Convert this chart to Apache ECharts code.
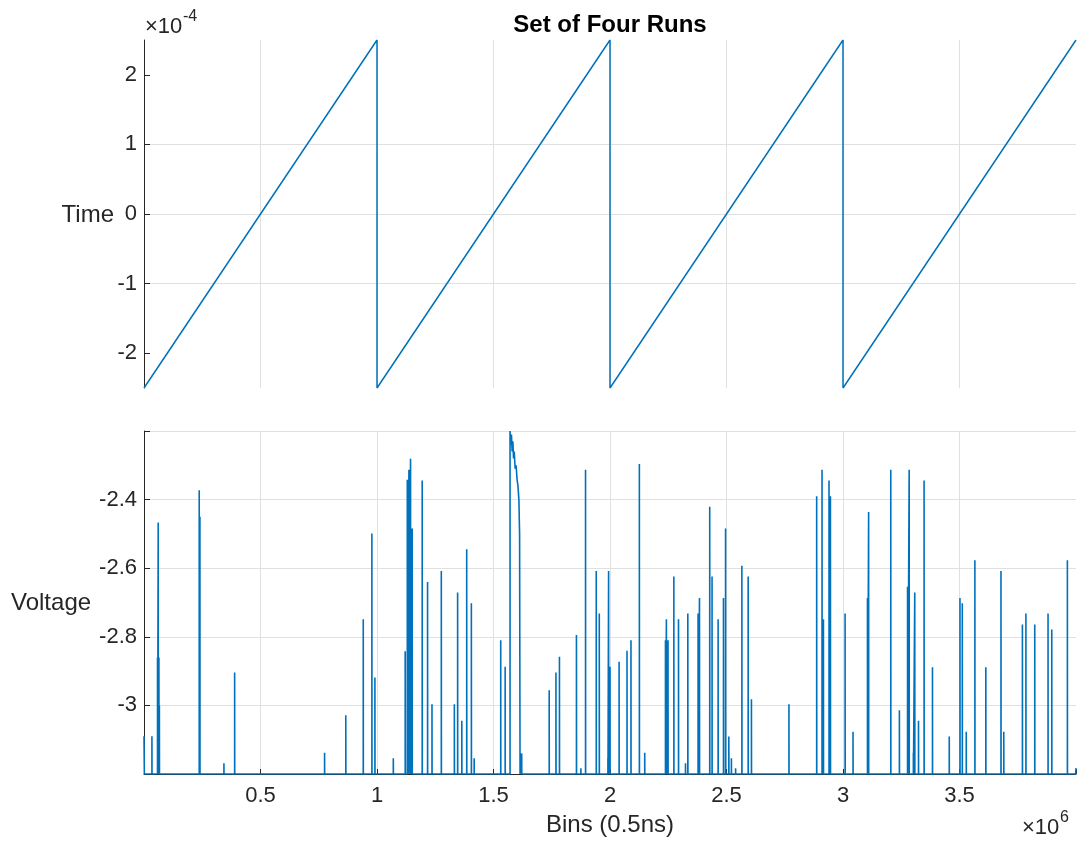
<!DOCTYPE html>
<html>
<head>
<meta charset="utf-8">
<script src="https://cdn.jsdelivr.net/npm/echarts@6/dist/echarts.min.js"></script>
<style>
  html, body { margin: 0; padding: 0; background: #fff; }
  #chart { width: 1080px; height: 846px; }
</style>
</head>
<body>
<div id="chart"></div>
<script>
// sawtooth of the time base, four runs of 1e6 bins each
const timeBins = [0, 1e6, 1e6, 2e6, 2e6, 3e6, 3e6, 4e6];
const timeValues = [-2.5e-4, 2.5e-4, -2.5e-4, 2.5e-4, -2.5e-4, 2.5e-4, -2.5e-4, 2.5e-4];
const timeTicks = [-2e-4, -1e-4, 0, 1e-4, 2e-4];

// voltage pulses (bins in millions, peak in volts)
const baseVolt = -3.2;
const startVolt = -3.09;
const spikeBinsM = [
  0.034, 0.058, 0.061, 0.064, 0.066, 0.237, 0.240, 0.343, 0.389, 0.775,
  0.866, 0.941, 0.978, 0.991, 1.070, 1.121, 1.130, 1.137, 1.144, 1.151,
  1.194, 1.217, 1.236, 1.276, 1.332, 1.346, 1.364, 1.385, 1.405, 1.417,
  1.531, 1.550, 1.621, 1.739, 1.768, 1.783, 1.856, 1.875, 1.895, 1.941,
  1.954, 1.991, 1.994, 2.000, 2.039, 2.073, 2.090, 2.126, 2.149, 2.238,
  2.242, 2.249, 2.274, 2.294, 2.324, 2.334, 2.378, 2.384, 2.428, 2.438,
  2.464, 2.487, 2.496, 2.510, 2.521, 2.539, 2.566, 2.593, 2.607, 2.768,
  2.887, 2.910, 2.916, 2.940, 2.946, 3.009, 3.043, 3.105, 3.110, 3.205,
  3.242, 3.277, 3.284, 3.302, 3.308, 3.324, 3.348, 3.384, 3.456, 3.502,
  3.512, 3.529, 3.566, 3.613, 3.678, 3.690, 3.770, 3.785, 3.823, 3.880,
  3.896, 3.963
];
const spikePeaks = [
  -3.09, -2.86, -2.467, -2.86, -3.0, -2.373, -2.45, -3.169, -2.904, -3.138,
  -3.029, -2.749, -2.499, -2.919, -3.154, -2.842, -2.342, -2.313, -2.281, -2.484,
  -2.344, -2.640, -2.997, -2.608, -2.997, -2.671, -3.045, -2.545, -2.702, -3.154,
  -2.810, -2.887, -3.14, -2.956, -2.904, -2.858, -2.795, -3.183, -2.313, -2.608,
  -2.732, -3.154, -2.608, -2.887, -2.873, -2.841, -2.810, -2.296, -3.138, -2.810,
  -2.749, -2.810, -2.624, -2.749, -3.169, -2.732, -2.732, -2.687, -2.421, -2.624,
  -2.749, -2.687, -2.484, -3.091, -3.154, -3.183, -2.593, -2.624, -2.982, -2.997,
  -2.390, -2.313, -2.749, -2.344, -2.390, -2.732, -3.077, -2.687, -2.436, -2.313,
  -3.014, -2.654, -2.313, -3.138, -2.671, -3.045, -2.344, -2.889, -3.091, -2.687,
  -2.702, -3.077, -2.577, -2.889, -2.608, -3.077, -2.764, -2.732, -2.764, -2.732,
  -2.779, -2.577
];
// long saturated pulse near 1.57e6
const arcBinsM = [1.571, 1.574, 1.577, 1.580, 1.583, 1.586, 1.589, 1.593, 1.597, 1.601, 1.605, 1.609, 1.612, 1.614];
const arcVolts = [-2.20, -2.24, -2.21, -2.26, -2.23, -2.28, -2.26, -2.31, -2.30, -2.34, -2.36, -2.40, -2.50, -3.20];
const endVolt = -3.183;

const xTickLabels = ["0.5", "1", "1.5", "2", "2.5", "3", "3.5"];

const MEGA = 1e6;
const blue = "#0072BD";
const ink = "#262626";
const gridGray = "#e0e0e0";
const font = "'Liberation Sans', Arial, Helvetica, sans-serif";

function buildVoltage() {
  const segs = spikeBinsM.map((b, i) => ({
    at: b,
    pts: [[b * MEGA, baseVolt], [b * MEGA, spikePeaks[i]], [b * MEGA + 400, baseVolt]],
  }));
  const arc = arcBinsM.map((b, i) => [b * MEGA, arcVolts[i]]);
  segs.push({ at: arcBinsM[0], pts: [[arcBinsM[0] * MEGA, baseVolt]].concat(arc) });
  segs.sort((a, b) => a.at - b.at);
  let pts = [[0, startVolt], [1500, baseVolt]];
  for (const s of segs) pts = pts.concat(s.pts);
  pts.push([4 * MEGA - 1500, baseVolt], [4 * MEGA, endVolt]);
  return pts;
}

const chart = echarts.init(document.getElementById("chart"));

const xBase = {
  type: "value",
  min: 0,
  max: 4 * MEGA,
  interval: 0.5 * MEGA,
  splitLine: { show: true, showMinLine: false, showMaxLine: false, lineStyle: { color: gridGray, width: 1 } },
};

chart.setOption({
  animation: false,
  textStyle: { fontFamily: font },
  grid: [
    { left: 144, right: 4, top: 40, height: 348 },
    { left: 144, right: 4, top: 431, height: 343 },
  ],
  xAxis: [
    Object.assign({}, xBase, {
      gridIndex: 0,
      axisLine: { show: false },
      axisTick: { show: false },
      axisLabel: { show: false },
    }),
    Object.assign({}, xBase, {
      gridIndex: 1,
      axisLine: { show: true, onZero: false, lineStyle: { color: ink, width: 1 } },
      axisTick: { show: true, inside: true, length: 5, lineStyle: { color: ink } },
      axisLabel: {
        color: ink, fontSize: 22, fontFamily: font, margin: 11,
        formatter: (v) => {
          const k = Math.round(v / (0.5 * MEGA));
          return k >= 1 && k <= xTickLabels.length ? xTickLabels[k - 1] : "";
        },
      },
      name: "Bins (0.5ns)",
      nameLocation: "middle",
      nameGap: 39,
      nameTextStyle: { color: ink, fontSize: 24, fontFamily: font },
    }),
  ],
  yAxis: [
    {
      type: "value",
      gridIndex: 0,
      min: -2.5e-4,
      max: 2.5e-4,
      axisLine: { show: true, onZero: false, lineStyle: { color: ink, width: 1 } },
      axisTick: { show: true, inside: true, length: 6, customValues: timeTicks, lineStyle: { color: ink } },
      axisLabel: {
        color: ink, fontSize: 22, fontFamily: font, margin: 7,
        customValues: timeTicks,
        formatter: (v) => String(Math.round(v * 1e4)),
      },
      splitLine: { show: true, showMinLine: false, showMaxLine: false, lineStyle: { color: gridGray, width: 1 } },
    },
    {
      type: "value",
      gridIndex: 1,
      min: -3.2,
      max: -2.2,
      interval: 0.2,
      axisLine: { show: true, onZero: false, lineStyle: { color: ink, width: 1 } },
      axisTick: { show: true, inside: true, length: 6, lineStyle: { color: ink } },
      axisLabel: {
        color: ink, fontSize: 22, fontFamily: font, margin: 7,
        formatter: (v) => (v > -3.19 && v < -2.21 ? String(+v.toFixed(1)) : ""),
      },
      splitLine: { show: true, showMinLine: false, lineStyle: { color: gridGray, width: 1 } },
    },
  ],
  series: [
    {
      type: "line",
      xAxisIndex: 0,
      yAxisIndex: 0,
      data: timeBins.map((b, i) => [b, timeValues[i]]),
      showSymbol: false,
      lineStyle: { color: blue, width: 1.5 },
    },
    {
      type: "line",
      xAxisIndex: 1,
      yAxisIndex: 1,
      data: buildVoltage(),
      showSymbol: false,
      lineStyle: { color: blue, width: 1.6 },
    },
  ],
  graphic: [
    { type: "text", x: 610, y: 25, style: { text: "Set of Four Runs", font: "bold 24px " + font, fill: "#000", align: "center", verticalAlign: "middle" } },
    { type: "text", x: 114, y: 215, style: { text: "Time", font: "24px " + font, fill: ink, align: "right", verticalAlign: "middle" } },
    { type: "text", x: 11, y: 603, style: { text: "Voltage", font: "24px " + font, fill: ink, align: "left", verticalAlign: "middle" } },
    { type: "text", x: 145, y: 27, style: { text: "×10", font: "22px " + font, fill: ink, align: "left", verticalAlign: "middle" } },
    { type: "text", x: 183, y: 17, style: { text: "-4", font: "16px " + font, fill: ink, align: "left", verticalAlign: "middle" } },
    { type: "text", x: 1022, y: 828, style: { text: "×10", font: "22px " + font, fill: ink, align: "left", verticalAlign: "middle" } },
    { type: "text", x: 1060, y: 818, style: { text: "6", font: "16px " + font, fill: ink, align: "left", verticalAlign: "middle" } },
  ],
});
</script>
</body>
</html>
